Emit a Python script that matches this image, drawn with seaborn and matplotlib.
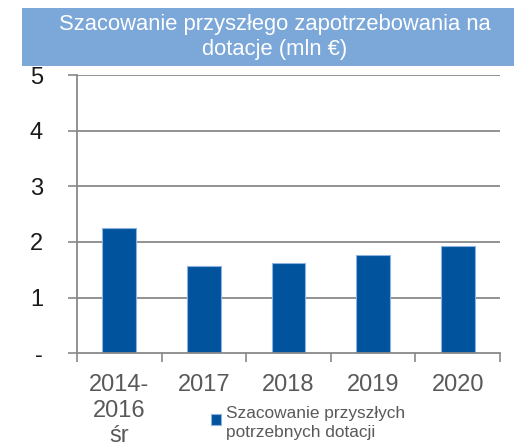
import matplotlib
matplotlib.use("Agg")
import matplotlib.pyplot as plt
import seaborn as sns
import pandas as pd
from matplotlib.patches import Rectangle
from matplotlib.legend_handler import HandlerPatch

categories = ["2014-\n2016\nśr", "2017", "2018", "2019", "2020"]
values = [2.25, 1.56, 1.62, 1.77, 1.93]
series_name = "Szacowanie przyszłych\npotrzebnych dotacji"
title = "Szacowanie przyszłego zapotrzebowania na\ndotacje (mln €)"
ytick_vals = [0, 1, 2, 3, 4, 5]
ytick_labels = ["-", "1", "2", "3", "4", "5"]

sns.set_theme(style="white")
plt.rcParams['font.family'] = ['Liberation Sans', 'DejaVu Sans']

df = pd.DataFrame({"cat": categories, "val": values, "series": series_name})

fig = plt.figure(figsize=(5.14, 4.46), dpi=100)
ax = fig.add_axes([77/514, 1-353.3/446, (500-77)/514, (353.3-75)/446])

sns.barplot(data=df, x="cat", y="val", hue="series", ax=ax, width=0.4,
            palette=["#00539C"], saturation=1, edgecolor="#8db3e0",
            linewidth=0.8, legend=True)

ax.set_xlim(-0.5, 4.5)
ax.set_ylim(0, 5)
ax.set_yticks(ytick_vals)
ax.set_yticklabels(ytick_labels, fontsize=17, color="#1a1a1a")
ax.set_xlabel("")
ax.set_ylabel("")
ax.set_xticks(range(len(categories)))
ax.set_xticklabels(categories, fontsize=17, color="#595959", linespacing=1.2, va="top")
ax.set_xticks([i - 0.5 for i in range(len(categories) + 1)], minor=True)
ax.tick_params(axis="x", which="major", length=0, pad=15)
ax.tick_params(axis="x", which="minor", length=6.5, width=1.2, color="#898989", direction="out", bottom=True)
ax.tick_params(axis="y", which="major", length=6.5, width=1.2, color="#898989", direction="out", left=True, pad=18)

for y in ytick_vals[1:]:
    ax.axhline(y, color="#898989", linewidth=1.3, zorder=0)
ax.set_axisbelow(True)

for s in ["top", "right"]:
    ax.spines[s].set_visible(False)
for s in ["left", "bottom"]:
    ax.spines[s].set_color("#898989")
    ax.spines[s].set_linewidth(1.3)


def top_square(legend, orig_handle, xdescent, ydescent, width, height, fontsize):
    side = width
    return Rectangle(xy=(-xdescent, -ydescent + height - side - 3), width=side, height=side)


handles, labels = ax.get_legend_handles_labels()
ax.legend(handles, labels, loc="upper left", bbox_to_anchor=(211/514, 1-406/446),
          bbox_transform=fig.transFigure, frameon=False, fontsize=12.4,
          handlelength=0.6, handleheight=2.0, handletextpad=0.3,
          borderpad=0, borderaxespad=0,
          labelcolor="#595959",
          handler_map={type(handles[0]): HandlerPatch(patch_func=top_square)})
leg = ax.get_legend()
for t in leg.get_texts():
    t.set_linespacing(1.3)

fig.patches.append(Rectangle((22/514, 1-65.7/446), 1-22/514, (65.7-8.3)/446,
                             transform=fig.transFigure, facecolor="#7BA7D9",
                             edgecolor="none", zorder=0))
fig.text(275/514, 1-37/446, title, ha="center", va="center", color="white",
         fontsize=15.8, linespacing=1.3)

fig.savefig("out.png", dpi=100)
